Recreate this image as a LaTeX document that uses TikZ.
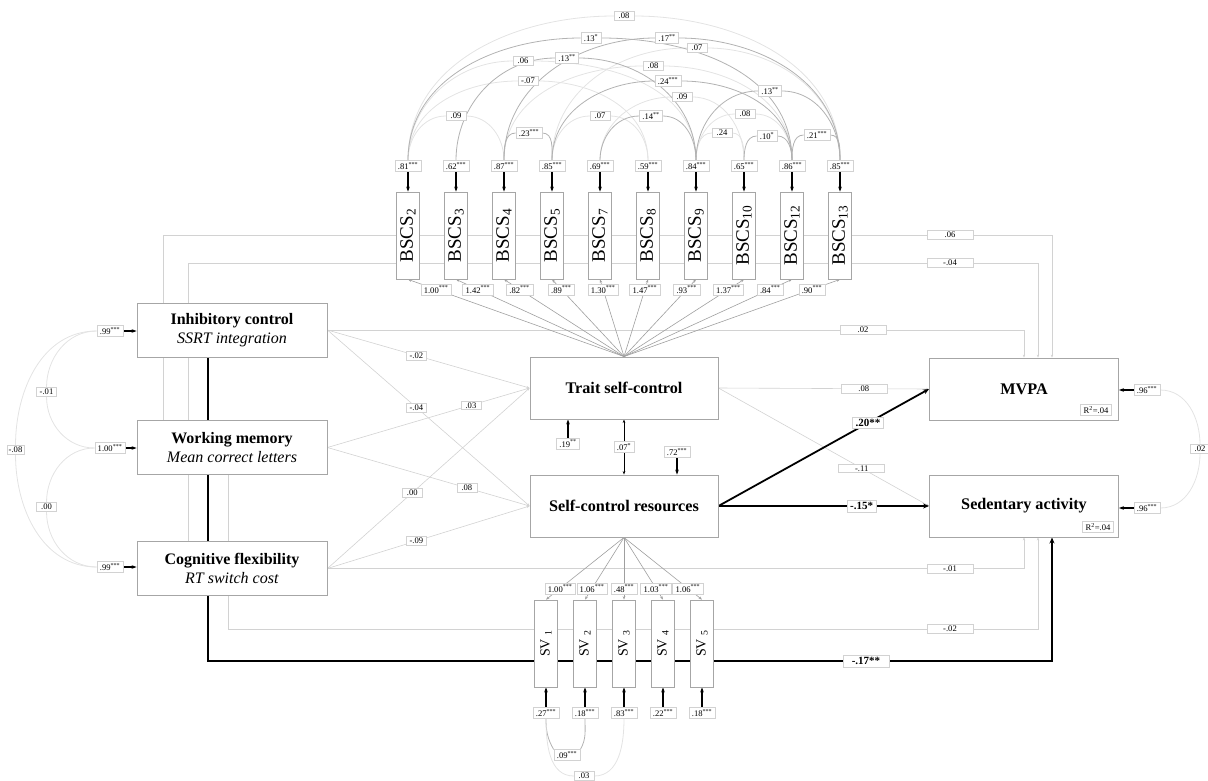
\documentclass[tikz,border=0pt]{standalone}
\usepackage{fontspec}
\setmainfont{Liberation Serif}
\usepackage{graphicx}
\usetikzlibrary{arrows.meta, backgrounds}
\newcommand{\pstar}[1]{\textsuperscript{#1}}

\tikzset{
  varbox/.style={draw=gray!70, fill=white, line width=0.9pt, minimum width=190pt, minimum height=54pt, inner sep=2pt, align=center, font=\fontsize{16}{19.5}\selectfont},
  latentbox/.style={varbox, minimum width=188pt, minimum height=62pt, font=\fontsize{16.2}{18}\selectfont\bfseries},
  itembox/.style={draw=gray!70, fill=white, line width=0.8pt, minimum width=23pt, minimum height=87pt, inner sep=0pt, font=\fontsize{19}{20}\selectfont},
  svbox/.style={itembox, font=\fontsize{14}{16}\selectfont},
  coef/.style={draw=gray!35, fill=white, line width=0.4pt, font=\fontsize{8.6}{9.5}\selectfont, inner xsep=3pt, inner ysep=1.4pt, minimum width=20pt},
  widecoef/.style={coef, minimum width=46pt},
  boldcoef/.style={coef, font=\fontsize{11}{12}\selectfont\bfseries, inner ysep=2pt},
  graypath/.style={draw=gray!35, line width=0.6pt, -{Stealth[length=3pt,width=2.4pt]}},
  loadpath/.style={draw=gray!75, line width=0.6pt, -{Stealth[length=3.5pt,width=2.6pt]}},
  keypath/.style={draw=black, line width=1.8pt, -{Stealth[length=6pt,width=5pt]}},
  residarrow/.style={draw=black, line width=1.1pt, -{Stealth[length=5pt,width=3.6pt]}},
  darkcov/.style={draw=gray!60, line width=0.8pt},
  lightcov/.style={draw=gray!22, line width=0.8pt},
}

\begin{document}
\begin{tikzpicture}[x=1pt, y=-1pt]
\useasboundingbox (0,0) rectangle (1208,780);

% === predictors ===
\node[varbox] (inhib) at (232,330) {\textbf{Inhibitory control}\\\textit{SSRT integration}};
\node[varbox] (wmem) at (232,447.5) {\textbf{Working memory}\\\textit{Mean correct letters}};
\node[varbox] (cflex) at (232,568.5) {\textbf{Cognitive flexibility}\\\textit{RT switch cost}};

\node[coef] (einhib) at (110,331) {.99\pstar{***}};
\node[coef] (ewmem) at (110,448) {1.00\pstar{***}};
\node[coef] (ecflex) at (110,567) {.99\pstar{***}};
\node[coef] (cov01) at (46.5,392) {-.01};
\node[coef] (cov00) at (46.5,507) {.00};
\node[coef, minimum width=15pt, inner xsep=1.5pt] (cov08) at (15.5,450) {-.08};

% === latent factors and outcomes ===
\node[latentbox] (trait) at (624,388) {Trait self-control};
\node[latentbox] (scres) at (624,506) {Self-control resources};
\node[latentbox, minimum width=189pt] (mvpa) at (1024,389) {MVPA};
\node[latentbox, minimum width=189pt] (sedent) at (1024,506) {Sedentary activity};
\node[coef, minimum width=0pt] (rsqm) at (1096,410) {R\textsuperscript{2}=.04};
\node[coef, minimum width=0pt] (rsqs) at (1098,527) {R\textsuperscript{2}=.04};

\node[coef] (etrait) at (568,443.5) {.19\pstar{**}};
\node[coef] (escres) at (677,452) {.72\pstar{***}};
\node[coef] (emvpa) at (1147,390) {.96\pstar{***}};
\node[coef] (esedent) at (1147,508) {.96\pstar{***}};
\node[coef] (cov02) at (1200,449) {.02};

% === BSCS items ===
\foreach \i/\sub/\er in {1/2/.81, 2/3/.62, 3/4/.87, 4/5/.85, 5/7/.69, 6/8/.59, 7/9/.84, 8/10/.65, 9/12/.86, 10/13/.85} {
  \node[itembox] (b\i) at ({360+48*\i},235.5) {\rotatebox{90}{BSCS\textsubscript{\sub}}};
  \node[coef] (r\i) at ({360+48*\i},166) {\er\pstar{***}};
}

% residual covariances of the items
\foreach \n/\x/\y/\v in {
  ca/624/16/{.08}, cb/591/38/{.13\pstar{*}}, cc/667/38/{.17\pstar{**}}, cd/697/48/{.07},
  ce/523/61/{.06}, cf/567/58/{.13\pstar{**}}, cg/653/66/{.08}, ch/528/81/{-.07},
  ci/668/81/{.24\pstar{***}}, cj/682/97/{.09}, ck/770/91/{.13\pstar{**}}, cl/456/116/{.09},
  cm/600/116/{.07}, cn/651/116/{.14\pstar{**}}, co/745/114/{.08}, cp/529/133/{.23\pstar{***}},
  cq/722/133/{.24}, cr/767/136/{.10\pstar{*}}, cs/817/135/{.21\pstar{***}}}
  \node[coef] (\n) at (\x,\y) {\v};

% === SV items ===
\foreach \i/\er in {1/.27, 2/.18, 3/.83, 4/.22, 5/.18} {
  \node[svbox] (sv\i) at ({507+39*\i},643.5) {\rotatebox{90}{SV\ \textsubscript{\i}}};
  \node[coef] (se\i) at ({507+39*\i},713) {\er\pstar{***}};
}
\node[coef] (sc09) at (567,755) {.09\pstar{***}};
\node[coef] (sc03) at (584,776) {.03};

% labels of the routed paths
\node[widecoef] (p06) at (950,235) {.06};
\node[widecoef] (p04) at (950,263) {-.04};
\node[widecoef] (p02) at (863,330) {.02};
\node[widecoef] (p01) at (950,568.5) {-.01};
\node[widecoef] (p02s) at (950,629) {-.02};
\node[boldcoef, minimum width=46pt] (p17) at (866,661) {-.17**};

\begin{scope}[on background layer]
% routed paths to the outcomes
\draw[graypath, -] ([xshift=-69pt]wmem.north) |- (p06);
\draw[graypath] (p06) -| ([xshift=28pt]mvpa.north);
\draw[graypath, -] ([xshift=-44pt]cflex.north) |- (p04);
\draw[graypath] (p04) -| ([xshift=14pt]mvpa.north);
\draw[graypath, -] (inhib.east) -- (p02);
\draw[graypath] (p02) -| (mvpa.north);
\draw[graypath, -] (cflex.east) -- (p01);
\draw[graypath] (p01) -| (sedent.south);
\draw[graypath, -] ([xshift=-4pt]wmem.south) |- (p02s);
\draw[graypath] (p02s) -| ([xshift=14pt]sedent.south);
\draw[keypath, -] ([xshift=-24pt]inhib.south) |- (p17);
\draw[keypath] (p17) -| ([xshift=28pt]sedent.south);

% predictors to latent factors
\draw[graypath] (inhib.east) -- (trait.west) node[coef, pos=0.44] {-.02};
\draw[graypath] (inhib.east) -- (scres.west) node[coef, pos=0.44] {-.04};
\draw[graypath] (wmem.east) -- (trait.west) node[coef, pos=0.71] {.03};
\draw[graypath] (wmem.east) -- (scres.west) node[coef, pos=0.69] {.08};
\draw[graypath] (cflex.east) -- (trait.west) node[coef, pos=0.42] {.00};
\draw[graypath] (cflex.east) -- (scres.west) node[coef, pos=0.44] {-.09};

% latent factors to outcomes
\draw[graypath] (trait.east) -- (mvpa.west) node[widecoef, pos=0.69] {.08};
\draw[graypath] (trait.east) -- (sedent.west) node[widecoef, pos=0.68] {-.11};
\draw[keypath] (scres.east) -- (mvpa.west) node[boldcoef, pos=0.71] {.20**};
\draw[keypath] (scres.east) -- (sedent.west) node[boldcoef, pos=0.68] {-.15*};

% loadings
\foreach \i/\ld in {1/1.00, 2/1.42, 3/.82, 4/.89, 5/1.30, 6/1.47, 7/.93, 8/1.37, 9/.84, 10/.90}
  \draw[loadpath] (trait.north) -- (b\i.south) node[coef, pos=0.87] {\ld\pstar{***}};
\foreach \i/\ld in {1/1.00, 2/1.06, 3/.48, 4/1.03, 5/1.06}
  \draw[loadpath] (scres.south) -- (sv\i.north) node[coef, pos=0.82] {\ld\pstar{***}};

% item covariances
\foreach \a/\b/\c/\sty in {1/10/ca/lightcov, 4/10/cd/lightcov, 1/7/ce/lightcov, 3/9/cg/lightcov,
    1/6/ch/lightcov, 5/8/cj/lightcov, 1/3/cl/lightcov, 4/6/cm/lightcov, 7/9/co/lightcov, 7/8/cq/lightcov,
    1/9/cb/darkcov, 3/10/cc/darkcov, 2/7/cf/darkcov, 4/9/ci/darkcov, 7/10/ck/darkcov,
    5/7/cn/darkcov, 3/4/cp/darkcov, 8/9/cr/darkcov, 9/10/cs/darkcov}
  \draw[\sty] (r\a.north) to[out=90, in=180] (\c.west) (\c.east) to[out=0, in=90] (r\b.north);
\draw[darkcov] (se1.south) to[out=270, in=120] (sc09.north west) (sc09.north east) to[out=60, in=270] (se2.south);
\draw[lightcov] (se1.south) to[out=270, in=180] (sc03.west) (sc03.east) to[out=0, in=270] (se3.south);

% predictor covariances
\draw[lightcov] (einhib.west) to[out=180, in=90] (cov01.north) (cov01.south) to[out=270, in=180] (ewmem.west);
\draw[lightcov] (ewmem.west) to[out=180, in=90] (cov00.north) (cov00.south) to[out=270, in=180] (ecflex.west);
\draw[lightcov] (einhib.west) to[out=180, in=90] (cov08.north) (cov08.south) to[out=270, in=180] (ecflex.west);
\draw[lightcov] (emvpa.east) to[out=0, in=90] (cov02.north) (cov02.south) to[out=270, in=0] (esedent.east);

% residuals
\foreach \i in {1,...,10}
  \draw[residarrow] (r\i.south) -- (b\i.north);
\foreach \i in {1,...,5}
  \draw[residarrow] (se\i.north) -- (sv\i.south);
\draw[residarrow] (einhib.east) -- (einhib.east -| inhib.west);
\draw[residarrow] (ewmem.east) -- (ewmem.east -| wmem.west);
\draw[residarrow] (ecflex.east) -- (ecflex.east -| cflex.west);
\draw[residarrow] (etrait.north) -- (etrait.north |- trait.south);
\draw[residarrow] (escres.south) -- (escres.south |- scres.north);
\draw[residarrow] (emvpa.west) -- (emvpa.west -| mvpa.east);
\draw[residarrow] (esedent.west) -- (esedent.west -| sedent.east);
\draw[line width=0.6pt, {Stealth[length=3.5pt,width=2.6pt]}-{Stealth[length=3.5pt,width=2.6pt]}] (trait.south) -- (scres.north) node[coef, midway] {.07\pstar{*}};
\end{scope}

\end{tikzpicture}
\end{document}
